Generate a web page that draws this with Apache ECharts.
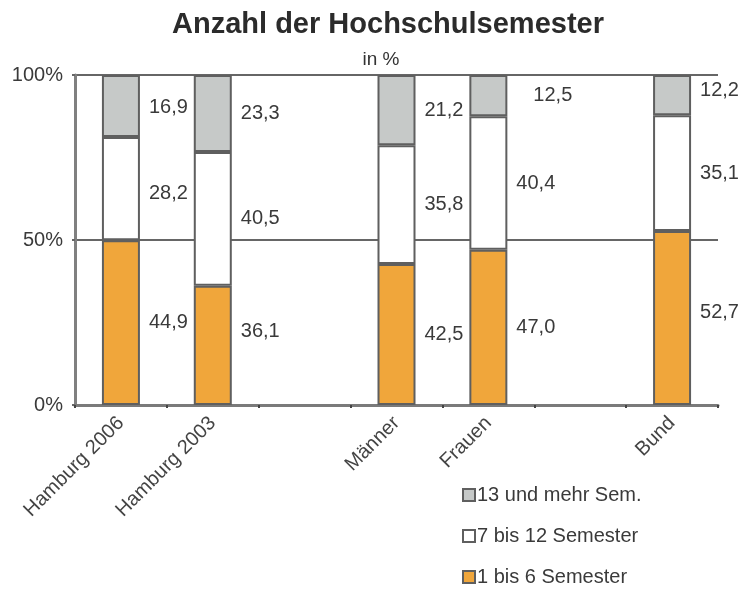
<!DOCTYPE html>
<html>
<head>
<meta charset="utf-8">
<script src="https://cdn.jsdelivr.net/npm/echarts@6/dist/echarts.min.js"></script>
<style>html,body{margin:0;padding:0;background:#fff}#c{width:751px;height:590px}</style>
</head>
<body>
<div id="c"></div>
<script>
var categories = ['Hamburg 2006', 'Hamburg 2003', '', 'Männer', 'Frauen', '', 'Bund'];
var sem1to6 = [44.9, 36.1, null, 42.5, 47.0, null, 52.7];
var sem7to12 = [28.2, 40.5, null, 35.8, 40.4, null, 35.1];
var sem13plus = [16.9, 23.3, null, 21.2, 12.5, null, 12.2];
var seriesNames = ['1 bis 6 Semester', '7 bis 12 Semester', '13 und mehr Sem.'];
var yTicks = [0, 50, 100];

var FONT = "'Liberation Sans', Arial, Helvetica, sans-serif";
var raw = [sem1to6, sem7to12, sem13plus];
var colors = ['#F0A63B', '#FFFFFF', '#C6C9C8'];
// label offset tweaks (style only): key = seriesIndex + ':' + dataIndex
var labelOffsets = {'0:1': [0, -14], '2:4': [17, 0], '2:6': [0, -5], '0:6': [0, -6], '1:0': [0, 5], '2:0': [0, 2]};

function pct(si, i) {
  var s = 0;
  for (var k = 0; k < raw.length; k++) { s += raw[k][i] || 0; }
  var v = raw[si][i];
  return v == null ? null : v / s * 100;
}

var series = raw.map(function (arr, si) {
  return {
    name: seriesNames[si],
    type: 'bar',
    stack: 'total',
    barWidth: 38,
    itemStyle: {color: colors[si], borderColor: '#5f5f5f', borderWidth: 2},
    emphasis: {disabled: true},
    data: arr.map(function (v, i) {
      var d = {value: pct(si, i)};
      var off = labelOffsets[si + ':' + i];
      if (off) { d.label = {offset: off}; }
      return d;
    }),
    label: {
      show: true,
      position: 'right',
      distance: 9,
      fontFamily: FONT,
      fontSize: 20,
      color: '#3a3a3a',
      formatter: function (p) {
        var v = raw[si][p.dataIndex];
        return v == null ? '' : v.toFixed(1).replace('.', ',');
      }
    }
  };
});

var chart = echarts.init(document.getElementById('c'), null, {renderer: 'canvas'});
chart.setOption({
  animation: false,
  backgroundColor: '#fff',
  title: [{
    text: 'Anzahl der Hochschulsemester',
    left: 383, top: 5, textAlign: 'center',
    textStyle: {fontFamily: FONT, fontSize: 29, fontWeight: 'bold', color: '#2b2b2b'}
  }, {
    text: 'in %',
    left: 376, top: 45, textAlign: 'center',
    textStyle: {fontFamily: FONT, fontSize: 19, fontWeight: 'normal', color: '#333'}
  }],
  legend: {
    orient: 'vertical',
    left: 462, top: 485,
    padding: 0,
    itemWidth: 12, itemHeight: 12, itemGap: 21,
    icon: 'rect',
    data: seriesNames.slice().reverse(),
    selectedMode: false,
    textStyle: {fontFamily: FONT, fontSize: 20, color: '#3a3a3a', padding: [0, 0, 0, -3]},
    itemStyle: {borderColor: '#5f5f5f', borderWidth: 2}
  },
  grid: {left: 75, right: 33, top: 75, bottom: 185, containLabel: false},
  xAxis: {
    type: 'category',
    data: categories,
    axisLine: {lineStyle: {color: '#7a7a7a', width: 3}},
    axisTick: {show: true, length: 3, lineStyle: {color: '#444', width: 2}},
    axisLabel: {rotate: 45, fontFamily: FONT, fontSize: 20, color: '#444', margin: 15, interval: 0}
  },
  yAxis: {
    type: 'value',
    min: yTicks[0], max: yTicks[yTicks.length - 1], interval: yTicks[1] - yTicks[0],
    axisLine: {show: true, lineStyle: {color: '#808080', width: 3}},
    axisTick: {show: true, length: 3, lineStyle: {color: '#666', width: 2}},
    axisLabel: {fontFamily: FONT, fontSize: 20, color: '#3a3a3a', margin: 12, formatter: '{value}%'},
    splitLine: {show: true, lineStyle: {color: '#666', width: 2}}
  },
  series: series
});
</script>
</body>
</html>
